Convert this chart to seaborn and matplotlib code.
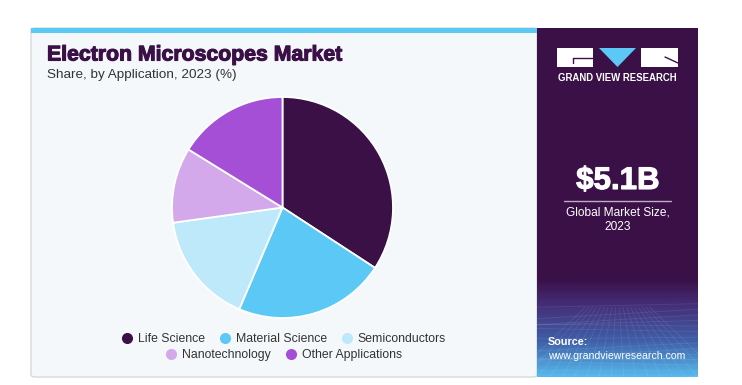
import numpy as np
import matplotlib
matplotlib.use("Agg")
import matplotlib.pyplot as plt
import matplotlib.patheffects as pe
from matplotlib.patches import Rectangle, FancyBboxPatch, Polygon
from matplotlib.lines import Line2D
from matplotlib.colors import LinearSegmentedColormap
import seaborn as sns

#%% data
applications = ["Life Science", "Material Science", "Semiconductors",
                "Nanotechnology", "Other Applications"]
share = [34.2, 22.2, 16.4, 11.0, 16.2]
colors = ["#3a1047", "#5bc8f5", "#bde9fa", "#d4a9ec", "#a54fd6"]

title = "Electron Microscopes Market"
subtitle = "Share, by Application, 2023 (%)"
market_size = "$5.1B"
market_label = "Global Market Size,\n2023"

#%% figure
sns.set_theme(style="white")
plt.rcParams['font.family'] = ['Liberation Sans', 'DejaVu Sans']

W, H = 742, 385
fig = plt.figure(figsize=(W / 100, H / 100), dpi=100)
fig.patch.set_facecolor("white")

def fx(x):
    return x / W

def fy(y):
    # y measured from the top in pixels
    return 1 - y / H

# main card
card = FancyBboxPatch((fx(31), fy(377)), fx(506), (349) / H,
                      boxstyle="round,pad=0,rounding_size=0.006",
                      transform=fig.transFigure, facecolor="#f4f8fb",
                      edgecolor="#d6dadd", lw=1, zorder=-2)
fig.patches.append(card)
fig.patches.append(Rectangle((fx(31), fy(33)), fx(506), 5 / H,
                             transform=fig.transFigure, facecolor="#5bc8f5",
                             edgecolor="none", zorder=-1))

# right panel with gradient at the bottom
pax = fig.add_axes([fx(537), fy(377), fx(161), 349 / H])
grad_cmap = LinearSegmentedColormap.from_list(
    "gvr", [(0, "#3a1047"), (0.72, "#3a1047"), (0.8, "#45307a"),
            (0.9, "#3f5fa8"), (1.0, "#55b8ec")])
g = np.linspace(0, 1, 300).reshape(-1, 1)
pax.imshow(g, aspect="auto", cmap=grad_cmap, extent=[0, 1, 1, 0])
# faint mesh in the lower part
for k in range(14):
    yy = 0.80 + k * 0.016
    pax.plot([0, 1], [yy + 0.02 * np.sin(k), yy - 0.01], color="white", alpha=0.09, lw=0.6)
for k in range(18):
    xx = k / 17
    pax.plot([0.5 + (xx - 0.5) * 0.4, xx * 1.3 - 0.15], [0.8, 1.0], color="white", alpha=0.09, lw=0.6)
pax.set_xlim(0, 1)
pax.set_ylim(1, 0)
pax.axis("off")

# logo
fig.patches.append(Rectangle((fx(557), fy(67)), fx(36), 19 / H, transform=fig.transFigure,
                             facecolor="white", edgecolor="none", zorder=3))
fig.patches.append(Rectangle((fx(641), fy(67)), fx(37), 19 / H, transform=fig.transFigure,
                             facecolor="white", edgecolor="none", zorder=3))
fig.patches.append(Polygon([(fx(599), fy(48)), (fx(636), fy(48)), (fx(617.5), fy(67))],
                           transform=fig.transFigure, facecolor="#5bc8f5", edgecolor="none",
                           zorder=3))
fig.lines.append(Line2D([fx(573), fx(593)], [fy(58), fy(58)], transform=fig.transFigure,
                        color="#3a1047", lw=1, zorder=4))
fig.lines.append(Line2D([fx(573), fx(573)], [fy(58), fy(63)], transform=fig.transFigure,
                        color="#3a1047", lw=1, zorder=4))
fig.lines.append(Line2D([fx(665), fx(678)], [fy(57), fy(63)], transform=fig.transFigure,
                        color="#3a1047", lw=1, zorder=4))
fig.text(fx(617.5), fy(78), "GRAND VIEW RESEARCH", color="white", fontsize=6.9,
         fontweight="bold", ha="center", va="center")

# market size
fig.text(fx(618), fy(181), market_size, color="white", fontsize=22.5,
         fontweight="bold", ha="center", va="center",
         path_effects=[pe.withStroke(linewidth=0.8, foreground="white")])
fig.lines.append(Line2D([fx(564), fx(671)], [fy(200.5), fy(200.5)], transform=fig.transFigure,
                        color="#b8b0c0", lw=1, zorder=4))
fig.text(fx(617.5), fy(220), market_label, color="white", fontsize=8.6,
         ha="center", va="center", linespacing=1.25)

# source
fig.text(fx(548), fy(342), "Source:", color="white", fontsize=7.8, fontweight="bold",
         ha="left", va="center")
fig.text(fx(548), fy(356), "www.grandviewresearch.com", color="white", fontsize=7.6,
         ha="left", va="center")

# titles
fig.text(fx(47), fy(55), title, color="#3a1047", fontsize=15.3, fontweight="bold",
         ha="left", va="center",
         path_effects=[pe.withStroke(linewidth=0.8, foreground="#3a1047")])
fig.text(fx(47), fy(75), subtitle, color="#333333", fontsize=9.7,
         ha="left", va="center")

#%% pie
cx, cy, r = 282.5, 207.5, 110.5
ax = fig.add_axes([fx(cx - r), fy(cy + r), 2 * r / W, 2 * r / H], zorder=2)
ax.pie(share, colors=colors, startangle=90, counterclock=False,
       wedgeprops=dict(edgecolor="white", linewidth=1.3))
ax.set_xlim(-1, 1)
ax.set_ylim(-1, 1)
ax.axis("off")

#%% legend (two centered rows)
handles = [Line2D([0], [0], marker="o", color="none", markerfacecolor=c,
                  markeredgecolor="none", markersize=8) for c in colors]
leg_kw = dict(frameon=False, fontsize=8.8, handletextpad=0.3, columnspacing=1.0,
              handlelength=1.2, labelcolor="#333333")
leg1 = fig.legend(handles[:3], applications[:3], loc="center", ncol=3,
                  bbox_to_anchor=(fx(283), fy(339)), **leg_kw)
leg2 = fig.legend(handles[3:], applications[3:], loc="center", ncol=2,
                  bbox_to_anchor=(fx(283), fy(355)), **leg_kw)

fig.savefig("out.png", dpi=100, facecolor="white")
